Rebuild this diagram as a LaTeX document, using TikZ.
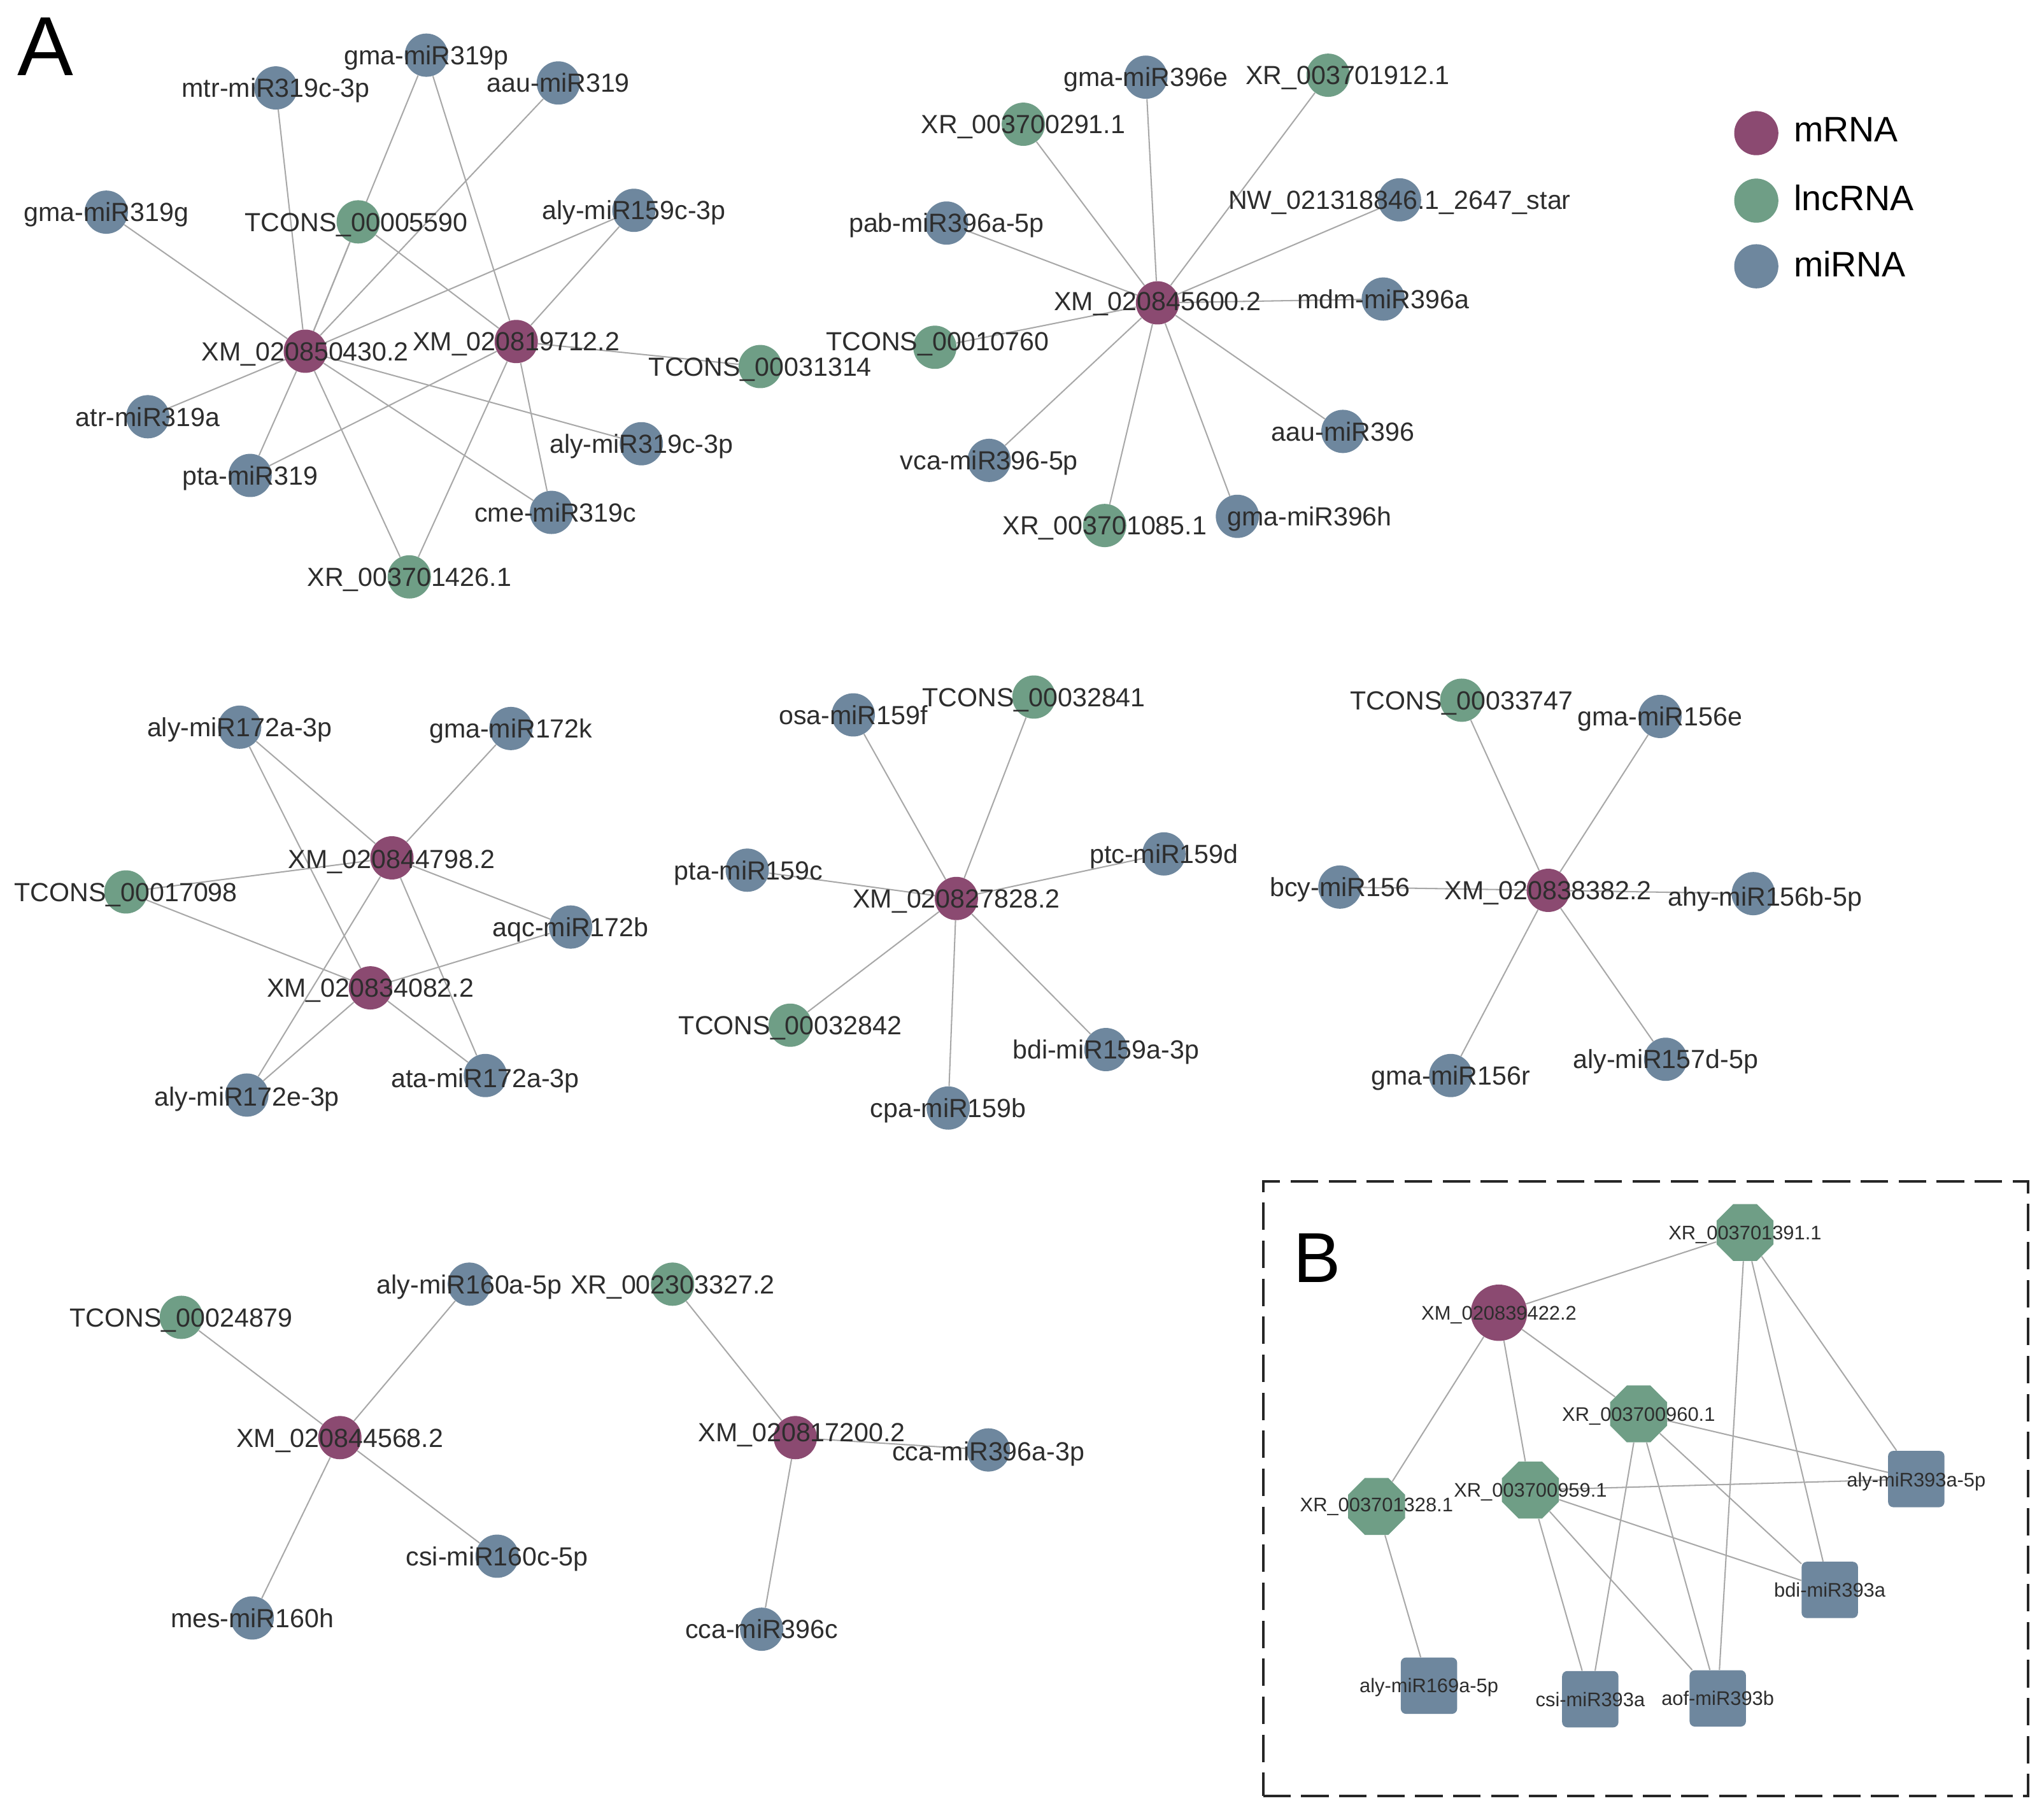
\documentclass[tikz,border=0pt]{standalone}
\usepackage{fontspec}
\setmainfont{Liberation Sans}
\usetikzlibrary{shapes.geometric}
\definecolor{cm}{RGB}{139,74,113}
\definecolor{cl}{RGB}{111,158,134}
\definecolor{cr}{RGB}{110,135,158}
\definecolor{ce}{RGB}{168,168,168}
\definecolor{ct}{RGB}{45,45,45}
\pgfdeclarelayer{bg}\pgfdeclarelayer{fg}\pgfsetlayers{bg,main,fg}
\tikzset{
 dot/.style={circle,minimum size=33pt,inner sep=0pt,draw=none},
 mr/.style={dot,fill=cm}, lr/.style={dot,fill=cl}, mi/.style={dot,fill=cr},
 lab/.style={inner sep=0pt,text=ct,font=\fontsize{20}{24}\selectfont,text height=14.3pt,text depth=0pt},
 labB/.style={inner sep=0pt,text=ct,font=\fontsize{15}{18}\selectfont,text height=10.7pt,text depth=0pt},
 edge/.style={draw=ce,line width=1pt},
 bmr/.style={circle,fill=cm,minimum size=43pt,inner sep=0pt},
 blr/.style={regular polygon,regular polygon sides=8,fill=cl,minimum size=47pt,inner sep=0pt},
 bmi/.style={rectangle,rounded corners=4pt,fill=cr,minimum size=43pt,inner sep=0pt},
 leg/.style={circle,minimum size=33.7pt,inner sep=0pt},
 legt/.style={anchor=west,inner sep=0pt,text=black,font=\fontsize{27}{30}\selectfont,text height=19.3pt,text depth=0pt},
 big/.style={anchor=base west,inner sep=0pt,text=black},
 panelbox/.style={draw=black!85,line width=2pt,dash pattern=on 21pt off 8pt},
}
% #1 style, #2 name, #3 position, #4 label style, #5 label offset, #6 text
\newcommand\gn[6]{\node[#1] (#2) at (#3) {};
 \begin{pgfonlayer}{fg}\path (#3) ++(#5) node[#4] (#2t) {#6};\end{pgfonlayer}}
\begin{document}
\begin{tikzpicture}[x=1pt,y=-1pt]
\useasboundingbox (0,0) rectangle (1560,1386.5);
\begin{pgfonlayer}{bg}
\fill[white] (0,0) rectangle (1560,1386.5);
\end{pgfonlayer}
% panel letters
\node[big,font=\fontsize{64}{64}\selectfont] (lA) at (13,57.4) {A};
\node[big,font=\fontsize{54}{54}\selectfont] (lB) at (987,978.4) {B};
% ---------- cluster 1
\gn{mr}{a1}{233,268}{lab}{0,0}{XM\_020850430.2}
\gn{mr}{a2}{394,260.6}{lab}{0,0}{XM\_020819712.2}
\gn{mi}{a3}{210.5,67.1}{lab}{0,0}{mtr-miR319c-3p}
\gn{mi}{a4}{325.4,42.1}{lab}{0,0}{gma-miR319p}
\gn{mi}{a5}{426.1,63.3}{lab}{0,0}{aau-miR319}
\gn{mi}{a6}{81.1,161.9}{lab}{0,0}{gma-miR319g}
\gn{lr}{a7}{273.4,169.3}{lab}{-1.5,0}{TCONS\_00005590}
\gn{mi}{a8}{483.8,160.5}{lab}{0,0}{aly-miR159c-3p}
\gn{lr}{a9}{580.2,279.7}{lab}{0,0}{TCONS\_00031314}
\gn{mi}{a10}{112.8,318}{lab}{0,0}{atr-miR319a}
\gn{mi}{a11}{190.9,362.8}{lab}{0,0}{pta-miR319}
\gn{mi}{a12}{489.5,338.6}{lab}{0,0}{aly-miR319c-3p}
\gn{mi}{a13}{420.9,391}{lab}{3,0}{cme-miR319c}
\gn{lr}{a14}{312.4,440.2}{lab}{0,0}{XR\_003701426.1}
% ---------- cluster 2
\gn{mr}{b0}{883.4,231.1}{lab}{0,-1.5}{XM\_020845600.2}
\gn{mi}{b1}{874.5,58.9}{lab}{0,0}{gma-miR396e}
\gn{lr}{b2}{1013.6,57.4}{lab}{15,0}{XR\_003701912.1}
\gn{lr}{b3}{781,94.8}{lab}{0,0}{XR\_003700291.1}
\gn{mi}{b4}{1068.1,152.5}{lab}{0,0}{NW\_021318846.1\_2647\_star}
\gn{mi}{b5}{722.4,170.2}{lab}{0,0}{pab-miR396a-5p}
\gn{mi}{b6}{1055.7,228.2}{lab}{0,0}{mdm-miR396a}
\gn{lr}{b7}{713.5,265}{lab}{2,-4.4}{TCONS\_00010760}
\gn{mi}{b8}{1024.9,329.2}{lab}{0,0}{aau-miR396}
\gn{mi}{b9}{754.9,351.3}{lab}{0,0}{vca-miR396-5p}
\gn{lr}{b10}{843.1,401}{lab}{0,0}{XR\_003701085.1}
\gn{mi}{b11}{944.4,394}{lab}{55,0}{gma-miR396h}
% ---------- cluster 3
\gn{mi}{c1}{182.9,554.9}{lab}{0,0}{aly-miR172a-3p}
\gn{mi}{c2}{389.9,555.9}{lab}{0,0}{gma-miR172k}
\gn{mr}{c3}{299.1,654.6}{lab}{0,1}{XM\_020844798.2}
\gn{lr}{c4}{96.1,680.6}{lab}{0,0}{TCONS\_00017098}
\gn{mi}{c5}{435.5,707.4}{lab}{0,0}{aqc-miR172b}
\gn{mr}{c6}{282.7,753.8}{lab}{0,0}{XM\_020834082.2}
\gn{mi}{c7}{188.4,835.6}{lab}{0,1}{aly-miR172e-3p}
\gn{mi}{c8}{370.4,820.7}{lab}{0,2}{ata-miR172a-3p}
% ---------- cluster 4
\gn{mr}{d0}{729.9,685.6}{lab}{0,0}{XM\_020827828.2}
\gn{mi}{d1}{651.2,545.5}{lab}{0,0}{osa-miR159f}
\gn{lr}{d2}{789.1,531.9}{lab}{0,0}{TCONS\_00032841}
\gn{mi}{d3}{570.3,664}{lab}{1,0}{pta-miR159c}
\gn{mi}{d4}{888.3,651.6}{lab}{0,0}{ptc-miR159d}
\gn{lr}{d5}{603.1,782.3}{lab}{0,0}{TCONS\_00032842}
\gn{mi}{d6}{844,800.9}{lab}{0,0}{bdi-miR159a-3p}
\gn{mi}{d7}{723.7,845.5}{lab}{0,0}{cpa-miR159b}
% ---------- cluster 5
\gn{mr}{e0}{1181.6,679.4}{lab}{0,0}{XM\_020838382.2}
\gn{lr}{e1}{1115.6,534.3}{lab}{0,0}{TCONS\_00033747}
\gn{mi}{e2}{1266.9,546.7}{lab}{0,0}{gma-miR156e}
\gn{mi}{e3}{1022.6,676.9}{lab}{0,0}{bcy-miR156}
\gn{mi}{e4}{1338.1,681.9}{lab}{9,2.4}{ahy-miR156b-5p}
\gn{mi}{e5}{1107.2,820.7}{lab}{0,0}{gma-miR156r}
\gn{mi}{e6}{1271.2,808.3}{lab}{0,0}{aly-miR157d-5p}
% ---------- cluster 6
\gn{mr}{f0}{259.4,1097}{lab}{0,0}{XM\_020844568.2}
\gn{lr}{f1}{138.4,1005.2}{lab}{0,0}{TCONS\_00024879}
\gn{mi}{f2}{358.2,979.9}{lab}{0,0}{aly-miR160a-5p}
\gn{mi}{f3}{379.4,1187.5}{lab}{0,0}{csi-miR160c-5p}
\gn{mi}{f4}{192.5,1234.6}{lab}{0,0}{mes-miR160h}
% ---------- cluster 7
\gn{mr}{g0}{607,1097}{lab}{5,-4.3}{XM\_020817200.2}
\gn{lr}{g1}{513.3,979.9}{lab}{0,0}{XR\_002303327.2}
\gn{mi}{g2}{754.3,1106.4}{lab}{0,1}{cca-miR396a-3p}
\gn{mi}{g3}{581.3,1243.2}{lab}{0,0}{cca-miR396c}
% ---------- panel B
\node[panelbox,draw,rectangle,minimum width=584pt,minimum height=469pt,anchor=north west] (box) at (963,900.6) {};
\gn{bmr}{h0}{1144,1001.7}{labB}{0,0}{XM\_020839422.2}
\gn{blr}{h1}{1331.8,940.5}{labB}{0,0}{XR\_003701391.1}
\gn{blr}{h2}{1250.6,1078.9}{labB}{0,0}{XR\_003700960.1}
\gn{blr}{h3}{1168,1137}{labB}{0,0}{XR\_003700959.1}
\gn{blr}{h4}{1050.6,1149.5}{labB}{0,-1.5}{XR\_003701328.1}
\gn{bmi}{h5}{1462.5,1128.6}{labB}{0,0.5}{aly-miR393a-5p}
\gn{bmi}{h6}{1396.5,1213.2}{labB}{0,0}{bdi-miR393a}
\gn{bmi}{h7}{1090.6,1286.3}{labB}{0,0}{aly-miR169a-5p}
\gn{bmi}{h8}{1213.7,1296.6}{labB}{0,0}{csi-miR393a}
\gn{bmi}{h9}{1311,1296}{labB}{0,0}{aof-miR393b}
% ---------- legend
\node[leg,fill=cm] (lg1) at (1340.4,101.6) {};
\node[leg,fill=cl] (lg2) at (1340.4,153.1) {};
\node[leg,fill=cr] (lg3) at (1340.4,203.2) {};
\node[legt] (lg1t) at (1368.8,98.5) {mRNA};
\node[legt] (lg2t) at (1368.8,151) {lncRNA};
\node[legt] (lg3t) at (1368.8,201.5) {miRNA};
% ---------- edges
\begin{pgfonlayer}{bg}
\foreach \u/\v in {a1/a3,a1/a4,a1/a5,a1/a6,a1/a7,a1/a8,a1/a10,a1/a11,a1/a12,a1/a13,a1/a14,
  a2/a4,a2/a7,a2/a8,a2/a9,a2/a11,a2/a13,a2/a14,
  b0/b1,b0/b2,b0/b3,b0/b4,b0/b5,b0/b6,b0/b7,b0/b8,b0/b9,b0/b10,b0/b11,
  c1/c3,c1/c6,c2/c3,c4/c3,c4/c6,c5/c3,c5/c6,c3/c7,c6/c7,c3/c8,c6/c8,
  d0/d1,d0/d2,d0/d3,d0/d4,d0/d5,d0/d6,d0/d7,
  e0/e1,e0/e2,e0/e3,e0/e4,e0/e5,e0/e6,
  f0/f1,f0/f2,f0/f3,f0/f4,
  g0/g1,g0/g2,g0/g3,
  h0/h1,h0/h2,h0/h3,h0/h4,h1/h5,h1/h6,h1/h9,h2/h5,h2/h6,h2/h8,h2/h9,
  h3/h5,h3/h6,h3/h8,h3/h9,h4/h7}
  \draw[edge] (\u) -- (\v);
\end{pgfonlayer}
\end{tikzpicture}
\end{document}
